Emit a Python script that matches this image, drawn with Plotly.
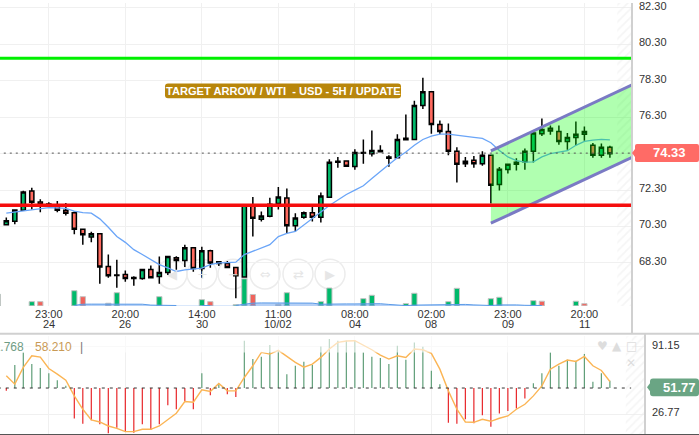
"""WTI 5H candlestick chart with channel, volume and oscillator panel."""

import plotly.graph_objects as go

W, H = 699, 435

opens = [70.39, 70.59, 71.19, 72.25, 71.65, 71.54, 71.43, 71.19, 71.06, 70.15, 69.72, 69.90, 68.10, 67.64, 67.67, 67.45, 67.45, 67.94, 67.56, 67.77, 68.59, 68.43, 69.14, 67.99, 68.97, 68.27, 68.27, 68.05,
         67.53, 71.45, 70.70, 70.86, 71.57, 71.87, 70.34, 70.81, 71.05, 70.81, 71.90, 73.83, 73.90, 73.59, 74.32, 74.30, 74.41, 74.05, 74.08, 75.06, 75.08, 76.94, 77.70, 75.90, 75.52, 74.43, 73.75, 73.94,
         73.75, 74.21, 72.61, 73.43, 73.72, 73.85, 74.43, 75.39, 75.69, 75.52, 74.97, 75.19, 75.36, 74.76, 74.21, 74.65]
highs = [70.79, 71.23, 72.26, 72.43, 71.79, 71.63, 71.70, 71.59, 71.12, 70.19, 70.01, 69.92, 68.76, 68.48, 67.88, 67.57, 67.97, 68.16, 68.65, 68.67, 68.67, 69.30, 69.15, 69.19, 69.03, 68.39, 68.41, 68.07,
         71.53, 71.92, 71.12, 71.88, 72.47, 72.39, 71.03, 71.12, 71.39, 72.17, 74.00, 74.12, 73.92, 74.54, 75.08, 75.57, 74.76, 74.21, 75.36, 76.45, 77.21, 78.47, 77.70, 76.12, 75.96, 74.65, 74.12, 74.17,
         74.43, 74.23, 73.57, 73.74, 74.05, 74.59, 75.55, 76.23, 75.85, 75.85, 75.44, 76.07, 75.79, 74.88, 74.86, 74.74]
lows = [70.39, 70.43, 71.17, 71.23, 71.08, 71.39, 71.08, 70.90, 69.88, 69.30, 69.44, 67.15, 67.48, 66.93, 67.26, 67.04, 67.37, 67.45, 67.15, 67.63, 67.92, 68.08, 67.81, 67.48, 68.03, 68.13, 68.04, 66.36,
        67.51, 69.75, 70.57, 70.81, 71.24, 69.92, 70.03, 70.72, 70.57, 70.52, 71.89, 73.52, 73.60, 73.41, 73.75, 74.14, 74.39, 73.58, 74.08, 75.06, 75.08, 76.75, 75.39, 75.36, 74.21, 72.72, 73.57, 73.53,
        73.64, 71.57, 72.28, 73.21, 73.37, 73.42, 73.81, 75.27, 75.34, 74.79, 74.52, 74.77, 75.01, 74.08, 74.08, 74.08]
closes = [70.61, 71.21, 72.19, 71.63, 71.50, 71.46, 71.19, 71.03, 70.15, 69.85, 69.90, 68.08, 67.59, 67.61, 67.45, 67.50, 67.94, 67.48, 67.77, 68.65, 68.43, 69.14, 67.99, 68.97, 68.30, 68.37, 68.05, 67.59,
          71.50, 70.75, 70.88, 71.52, 71.92, 70.34, 70.77, 71.05, 70.81, 71.97, 73.83, 73.89, 73.61, 74.37, 74.37, 74.48, 74.48, 74.12, 75.08, 75.14, 76.94, 77.70, 75.90, 75.52, 74.43, 73.72, 73.89, 73.75,
          74.21, 72.57, 73.45, 73.72, 73.83, 74.43, 75.43, 75.63, 75.55, 74.97, 75.19, 75.36, 75.52, 74.21, 74.65, 74.30]
price_ma = [71.03, 71.09, 71.17, 71.23, 71.27, 71.34, 71.32, 71.30, 71.15, 71.06, 71.03, 70.72, 70.26, 69.75, 69.43, 69.03, 68.76, 68.48, 68.21, 68.03, 67.83, 67.92, 67.95, 68.01, 68.21, 68.30, 68.32, 68.34,
            68.76, 68.94, 69.12, 69.30, 69.75, 69.92, 70.03, 70.39, 70.72, 71.08, 71.45, 71.76, 72.06, 72.30, 72.54, 72.93, 73.34, 73.70, 74.08, 74.39, 74.76, 75.08, 75.26, 75.37, 75.37, 75.30, 75.23, 75.19,
            75.14, 74.90, 74.48, 74.12, 73.92, 73.83, 73.85, 74.12, 74.30, 74.39, 74.46, 74.76, 74.97, 75.04, 75.08, 75.06]

vol_index = [-1, 3, 4, 8, 9, 12, 13, 18, 23, 24, 27, 28, 29, 32, 33, 37, 38, 42, 43, 47, 48, 52, 53, 57, 58, 62, 63, 67, 68]
vol_values = [11.7, 4.3, 4.3, 15.3, 9.3, 2.7, 13.3, 9.3, 6.3, 4.3, 1.3, 27.3, 11.5, 1.5, 13.3, 4.3, 18, 7.3, 10.7, 2.3, 12.7, 4.3, 17.7, 7.3, 8.7, 5.3, 4.7, 4.7, 2.3]
vol_colors = ["#00b96b", "#00b96b", "#f0635c", "#00b96b", "#f0635c", "#9ab", "#00b96b", "#00b96b", "#00b96b", "#f0635c", "#00b96b", "#00b96b", "#f0635c", "#9ab", "#00b96b",
              "#00b96b", "#00b96b", "#00b96b", "#00b96b", "#00b96b", "#00b96b", "#00b96b", "#00b96b", "#00b96b", "#00b96b", "#00b96b", "#f0635c", "#00b96b", "#f0635c"]
vol_ma = [None, None, None, None, None, None, None, None, 0.5, 1.7, 1.8, 1.8, 1.8, 1.8, 1.8, 1.8, 1.7, 0.8, 0.5, 0.7, 0.4, None, None, 0.3, 0.3, None, None, 0.5,
          1.5, 2.8, 3, 3, 3, 3, 3, 3, 2.8, 1.7, 2, 2, 2, 2, 2, 2.5, 2.2, 1.5, 0.8, 0.3, 0.8, 1, 1, 1.2, 1.5, 1.7, 1.5, 1, 0.5, 0.4, 1, 1.2, 1, 0.6, 0.5, 0.4,
          None, None, None, None, None, None, None, None]

osc_hist = [49.06, 73.63, 85.75, 74.59, 70.76, 65.97, 59.27, 53.85, 22.59, 17.80, 21.00, 17.17, 8.55, 13.98, 9.83, 9.19, 17.17, 11.74, 17.17, 35.35, 31.52, 39.50, 31.52, 65.97, 44.92, 55.45, 45.88, 43.32,
            96.92, 79.37, 81.60, 92.77, 87.34, 65.02, 72.99, 76.82, 73.63, 91.49, 98.51, 96.92, 96.92, 96.92, 85.75, 81.60, 80.33, 74.59, 92.13, 78.73, 95.32, 91.17, 68.21, 55.45, 18.76, 17.80, 21.95, 18.12,
            25.78, 14.93, 27.37, 29.93, 32.16, 41.73, 56.40, 65.97, 85.75, 72.99, 78.73, 77.77, 84.16, 57.68, 65.97, 58.63]
osc_line = [63.42, 55.45, 71.39, 82.56, 81.28, 70.44, 65.02, 59.27, 44.28, 31.52, 21.31, 19.40, 15.57, 13.34, 10.15, 10.15, 12.38, 12.38, 15.57, 21.31, 27.69, 38.86, 38.22, 50.02, 48.43, 56.08, 49.06, 49.06,
            61.83, 72.99, 85.75, 84.16, 87.66, 81.92, 76.18, 71.71, 74.59, 80.97, 88.94, 95.32, 96.60, 96.92, 92.77, 88.30, 83.20, 79.37, 82.56, 80.97, 88.94, 88.30, 84.79, 69.80, 49.06, 31.52, 19.40, 19.08,
            21.95, 20.04, 22.91, 25.14, 31.52, 36.30, 44.28, 53.85, 69.80, 74.59, 78.41, 77.14, 81.92, 72.99, 68.52, 58.00]

tick_index = [5, 14, 23, 32, 41, 50, 59, 68]
tick_time = ["23:00", "20:00", "14:00", "11:00", "08:00", "02:00", "23:00", "20:00"]
tick_date = ["24", "26", "30", "10/02", "04", "08", "09", "11"]
price_ticks = [82.30, 80.30, 78.30, 76.30, 74.30, 72.30, 70.30, 68.30]
price_tick_text = ["82.30", "80.30", "78.30", "76.30", "", "72.30", "70.30", "68.30"]
osc_ticks = [91.15, 26.77]

last_price = 74.33
last_osc = 51.77
level_green = 79.54
level_red = 71.47
channel_x = [57, 73.7, 73.7, 57]
channel_y = [74.45, 78.10, 74.12, 70.48]

index = list(range(len(closes)))
FONT = "Liberation Sans, Arial, sans-serif"


def px(x):
    return x / W


def py(y):
    return 1 - y / H


def rounded_tag(x0, x1, y0, y1, r, point=0):
    """Path in paper coordinates, with an optional arrow on the left side."""
    mid = (y0 + y1) / 2
    left = f"L{px(x0)},{py(mid + 4)} L{px(x0 - point)},{py(mid)} L{px(x0)},{py(mid - 4)} " if point else ""
    return (f"M{px(x0 + r)},{py(y0)} L{px(x1 - r)},{py(y0)} Q{px(x1)},{py(y0)} {px(x1)},{py(y0 + r)} "
            f"L{px(x1)},{py(y1 - r)} Q{px(x1)},{py(y1)} {px(x1 - r)},{py(y1)} L{px(x0 + r)},{py(y1)} "
            f"Q{px(x0)},{py(y1)} {px(x0)},{py(y1 - r)} {left}L{px(x0)},{py(y0 + r)} Q{px(x0)},{py(y0)} {px(x0 + r)},{py(y0)} Z")


def label(x, y, text, font, xanchor="center"):
    fig.add_annotation(xref="paper", yref="paper", x=px(x), y=py(y), xanchor=xanchor, yanchor="middle",
                       text=text, showarrow=False, font=font)


def stems(rows):
    """Vertical stems from the oscillator base, one broken line per colour."""
    xs, ys = [], []
    for i, v in rows:
        xs += [i, i, None]
        ys += [last_osc, v, None]
    return xs, ys


fig = go.Figure()

# Hatched strips at the right end of both panels
hatch = dict(color="rgba(0,0,0,0)", pattern=dict(shape="/", fgcolor="#ececec", size=6, solidity=0.3), line=dict(width=0))
fig.add_trace(go.Bar(x=[72.75], y=[16.7], base=[65.9], width=[1.75], marker=hatch, xaxis="x", yaxis="y", showlegend=False))
fig.add_trace(go.Bar(x=[74.0], y=[95], base=[7], width=[2.25], marker=hatch, xaxis="x2", yaxis="y2", showlegend=False))

fig.add_trace(go.Candlestick(
    x=index, open=opens, high=highs, low=lows, close=closes,
    increasing=dict(fillcolor="#00b96b", line=dict(color="#000000", width=1.5)),
    decreasing=dict(fillcolor="#ff6a5f", line=dict(color="#000000", width=1.5)),
    whiskerwidth=0, xaxis="x", yaxis="y", showlegend=False,
))
fig.add_trace(go.Scatter(x=index, y=price_ma, mode="lines", line=dict(color="#6aa5f8", width=1.3), xaxis="x", yaxis="y", showlegend=False))

# Rising channel, on top of the candles
fig.add_trace(go.Scatter(x=channel_x, y=channel_y, mode="none", fill="toself", fillcolor="rgba(0,255,0,0.31)", xaxis="x", yaxis="y", showlegend=False))
for pair in ([0, 1], [3, 2]):
    fig.add_trace(go.Scatter(x=[channel_x[i] for i in pair], y=[channel_y[i] for i in pair], mode="lines",
                             line=dict(color="#7a7ac4", width=3), xaxis="x", yaxis="y", showlegend=False))

# Volume sits at the bottom of the price panel
fig.add_trace(go.Bar(x=vol_index, y=vol_values, width=0.62, marker=dict(color=vol_colors, line=dict(color="#c4c4c4", width=1)),
                     xaxis="x", yaxis="y3", showlegend=False))
fig.add_trace(go.Scatter(x=index, y=vol_ma, mode="lines", fill="tozeroy", fillcolor="rgba(90,150,235,0.45)",
                         line=dict(color="#5b9be8", width=1), xaxis="x", yaxis="y3", showlegend=False))

# Oscillator panel
up_x, up_y = stems([(i, v) for i, v in enumerate(osc_hist) if v >= last_osc])
down_x, down_y = stems([(i, v) for i, v in enumerate(osc_hist) if v < last_osc])
fig.add_trace(go.Scatter(x=up_x, y=up_y, mode="lines", line=dict(color="#5f9e78", width=1.2), xaxis="x2", yaxis="y2", showlegend=False))
fig.add_trace(go.Scatter(x=down_x, y=down_y, mode="lines", line=dict(color="#e8262a", width=1.2), xaxis="x2", yaxis="y2", showlegend=False))
fig.add_trace(go.Scatter(x=index, y=osc_line, mode="lines", line=dict(color="#fbb555", width=1.4), xaxis="x2", yaxis="y2", showlegend=False))

# Price levels and separators
fig.add_shape(type="line", xref="x", yref="y", x0=-1, x1=74, y0=level_green, y1=level_green, line=dict(color="#00f000", width=3))
fig.add_shape(type="line", xref="x", yref="y", x0=-1, x1=74, y0=level_red, y1=level_red, line=dict(color="#f50d0d", width=3.5))
fig.add_shape(type="line", xref="x", yref="y", x0=-1, x1=74, y0=last_price, y1=last_price, line=dict(color="#555555", width=1, dash="2px,4px"))
fig.add_shape(type="line", xref="x2", yref="y2", x0=-1, x1=73.5, y0=last_osc, y1=last_osc, line=dict(color="#333333", width=1, dash="3px,5px"))

fig.add_shape(type="rect", xref="paper", yref="paper", x0=0, x1=px(632), y0=py(352), y1=py(334), fillcolor="rgba(255,255,255,0.6)", line=dict(width=0))
fig.add_shape(type="line", xref="paper", yref="paper", x0=0, x1=1, y0=py(333), y1=py(333), line=dict(color="#d0d0d0", width=2))
fig.add_shape(type="line", xref="paper", yref="paper", x0=px(632), x1=px(632), y0=py(333), y1=1, line=dict(color="#d0d0d0", width=2))
fig.add_shape(type="line", xref="paper", yref="paper", x0=px(645), x1=px(645), y0=0, y1=py(333), line=dict(color="#d0d0d0", width=2))
fig.add_shape(type="line", xref="paper", yref="paper", x0=0, x1=1, y0=py(434.5), y1=py(434.5), line=dict(color="#555555", width=1))

# Pale navigation buttons behind the candles
for cx, glyph in zip([172, 202, 233, 265, 298, 330], ["◀", "+", "−", "⇔", "⇄", "▶"]):
    fig.add_shape(type="circle", xref="paper", yref="paper", layer="below", x0=px(cx - 15), x1=px(cx + 15), y0=py(288), y1=py(258),
                  line=dict(color="#ececec", width=1.5))
    label(cx, 273, glyph, dict(family="DejaVu Sans", size=13, color="#e6e6e6"))

# Second row of the time axis sits closer than a tick label line break would
for i, text in zip(tick_index, tick_date):
    fig.add_annotation(xref="x", yref="paper", x=i, y=py(323.5), xanchor="center", yanchor="middle", text=text, showarrow=False,
                       font=dict(family=FONT, size=11, color="#333333"))

# Title badge and last value tags
fig.add_shape(type="path", xref="paper", yref="paper", path=rounded_tag(165, 401, 81, 96, 3), fillcolor="#b8860b", line=dict(width=0))
label(283, 88.5, "<b>TARGET ARROW / WTI  - USD - 5H / UPDATE</b>", dict(family=FONT, size=11.1, color="#ffffff"))
fig.add_shape(type="path", xref="paper", yref="paper", path=rounded_tag(635, 699, 142, 160, 2, point=3), fillcolor="#ff6b66", line=dict(width=0))
label(669, 151, f"<b>{last_price:.2f}</b>", dict(family=FONT, size=13, color="#ffffff"))
fig.add_shape(type="path", xref="paper", yref="paper", path=rounded_tag(650, 699, 378, 396, 3, point=3), fillcolor="#6aa584", line=dict(width=0))
label(679, 387, f"<b>{last_osc:.2f}</b>", dict(family=FONT, size=13, color="#ffffff"))

# Oscillator legend, cut off by the left edge
label(26, 346.5, "51.768", dict(family=FONT, size=12, color="#6f9c84"), xanchor="right")
label(33, 346.5, "58.210", dict(family=FONT, size=12, color="#c99a55"), xanchor="left")
label(81, 346.5, "|", dict(family=FONT, size=12, color="#777777"))

# Panel window icons
for x, y, glyph in [(602, 345.5, "♥"), (617, 345.5, "▲"), (631, 345.5, "□"), (631, 363, "✕")]:
    label(x, y, glyph, dict(family="DejaVu Sans", size=12, color="#dddddd"))

axis_font = dict(family=FONT, size=11, color="#333333")
fig.update_layout(
    width=W, height=H,
    margin=dict(l=0, r=0, t=0, b=0),
    paper_bgcolor="#ffffff", plot_bgcolor="#ffffff",
    showlegend=False, boxgap=0.3,
    xaxis=dict(domain=[0, px(632)], range=[-0.741, 73.6], anchor="y", tickvals=tick_index, ticktext=tick_time, tickfont=axis_font,
               showgrid=True, gridcolor="#f0f0f0", zeroline=False, rangeslider=dict(visible=False), ticks="", showline=False),
    yaxis=dict(domain=[py(305), 1], range=[65.94, 82.574], side="right", anchor="x", tickvals=price_ticks, ticktext=price_tick_text, tickfont=axis_font,
               showgrid=True, gridcolor="#f0f0f0", zeroline=False, ticks="", ticklabelstandoff=6, ticklabelshift=-2, ticklabeloverflow="allow"),
    yaxis3=dict(overlaying="y", range=[0, 305], anchor="x", visible=False),
    xaxis2=dict(domain=[0, px(645)], range=[-0.741, 75.13], anchor="y2", tickvals=tick_index, showticklabels=False,
                showgrid=True, gridcolor="#f0f0f0", zeroline=False, ticks=""),
    yaxis2=dict(domain=[0, py(335)], range=[6.96, 101.7], side="right", anchor="x2", tickvals=osc_ticks, tickformat=".2f", tickfont=axis_font,
                showgrid=True, gridcolor="#f0f0f0", zeroline=False, ticks="", ticklabelstandoff=6, ticklabelshift=-2),
)

fig.write_html("out.html", config=dict(displayModeBar=False),
               post_script="document.body.style.margin='0';document.body.style.overflow='hidden';")
